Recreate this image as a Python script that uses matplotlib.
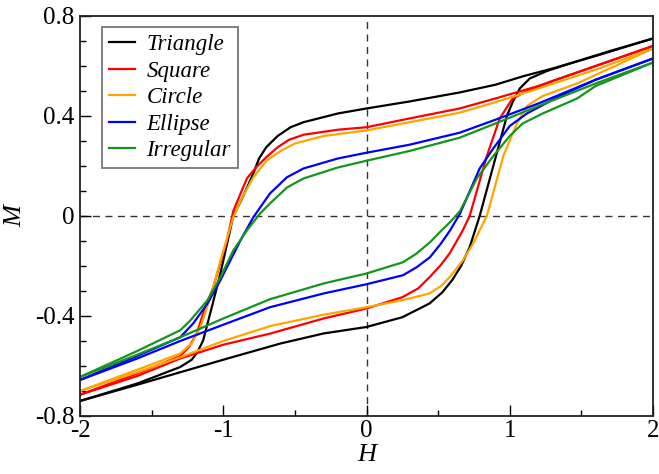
import glob
import matplotlib.pyplot as plt
from matplotlib import font_manager as fm
from matplotlib.ticker import MultipleLocator

# descending (upper) branch, H from 2 to -2; ascending (lower) branch, H from -2 to 2
tri_up_h = [2.0, 1.6, 1.3, 1.1, 0.9, 0.65, 0.3, 0.0, -0.2, -0.44, -0.53, -0.62, -0.7, -0.75, -0.79, -0.86,
            -0.93, -1.02, -1.08, -1.14, -1.18, -1.22, -1.3, -1.6, -2.0]
tri_up_m = [0.71, 0.64, 0.59, 0.56, 0.525, 0.494, 0.458, 0.43, 0.41, 0.375, 0.355, 0.32, 0.275, 0.23, 0.17, 0.08,
            0.0, -0.23, -0.365, -0.497, -0.545, -0.575, -0.604, -0.67, -0.74]
tri_dn_h = [-2.0, -1.6, -1.3, -1.0, -0.6, -0.3, 0.0, 0.25, 0.44, 0.53, 0.6, 0.66, 0.72, 0.79, 0.885, 0.98,
            1.02, 1.07, 1.14, 1.26, 1.42, 1.7, 2.0]
tri_dn_m = [-0.74, -0.675, -0.625, -0.575, -0.51, -0.47, -0.444, -0.405, -0.35, -0.305, -0.255, -0.2, -0.125,
            0.0, 0.2, 0.4, 0.455, 0.51, 0.55, 0.58, 0.61, 0.66, 0.71]

sq_up_h = [2.0, 1.6, 1.2, 0.9, 0.65, 0.3, 0.0, -0.2, -0.44, -0.54, -0.62, -0.7, -0.77, -0.835, -0.93,
           -0.975, -1.07, -1.14, -1.185, -1.24, -1.3, -1.6, -2.0]
sq_up_m = [0.68, 0.6, 0.52, 0.47, 0.43, 0.39, 0.355, 0.345, 0.325, 0.305, 0.275, 0.235, 0.195, 0.15, 0.02,
           -0.1, -0.285, -0.39, -0.47, -0.525, -0.56, -0.63, -0.715]
sq_dn_h = [-2.0, -1.6, -1.3, -1.0, -0.67, -0.3, 0.0, 0.25, 0.36, 0.44, 0.52, 0.58, 0.67, 0.72, 0.84, 0.93,
           1.02, 1.12, 1.3, 1.6, 2.0]
sq_dn_m = [-0.715, -0.64, -0.57, -0.515, -0.47, -0.41, -0.37, -0.325, -0.29, -0.245, -0.195, -0.15, -0.06, 0.0,
           0.24, 0.39, 0.47, 0.5, 0.54, 0.6, 0.68]

ci_up_h = [2.0, 1.6, 1.2, 0.9, 0.65, 0.3, 0.0, -0.3, -0.5, -0.6, -0.7, -0.79, -0.88, -0.93, -1.02,
           -1.09, -1.16, -1.22, -1.3, -1.6, -2.0]
ci_up_m = [0.67, 0.585, 0.51, 0.455, 0.413, 0.375, 0.342, 0.32, 0.29, 0.26, 0.22, 0.155, 0.06, -0.005, -0.18,
           -0.325, -0.445, -0.51, -0.55, -0.615, -0.7]
ci_dn_h = [-2.0, -1.6, -1.3, -1.0, -0.67, -0.3, 0.0, 0.25, 0.44, 0.52, 0.58, 0.67, 0.745, 0.84, 0.955,
           1.05, 1.12, 1.23, 1.47, 2.0]
ci_dn_m = [-0.7, -0.625, -0.565, -0.5, -0.44, -0.395, -0.365, -0.337, -0.31, -0.28, -0.245, -0.18, -0.11, 0.0,
           0.24, 0.37, 0.44, 0.48, 0.53, 0.67]

el_up_h = [2.0, 1.6, 1.2, 0.9, 0.65, 0.3, 0.0, -0.2, -0.44, -0.555, -0.674, -0.79, -0.88, -1.02,
           -1.11, -1.21, -1.3, -1.6, -2.0]
el_up_m = [0.63, 0.545, 0.45, 0.385, 0.333, 0.285, 0.253, 0.23, 0.19, 0.155, 0.09, -0.005, -0.098, -0.257,
           -0.35, -0.43, -0.485, -0.56, -0.656]
el_dn_h = [-2.0, -1.6, -1.3, -1.0, -0.674, -0.3, 0.0, 0.255, 0.35, 0.443, 0.52, 0.583, 0.653, 0.79, 0.885,
           1.0, 1.12, 1.35, 1.6, 2.0]
el_dn_m = [-0.656, -0.57, -0.5, -0.435, -0.365, -0.31, -0.273, -0.237, -0.205, -0.165, -0.11, -0.058, 0.01,
           0.19, 0.27, 0.36, 0.41, 0.48, 0.545, 0.63]

ir_up_h = [2.0, 1.6, 1.2, 0.9, 0.65, 0.3, 0.0, -0.2, -0.44, -0.555, -0.674, -0.743, -0.835, -0.93,
           -1.02, -1.11, -1.23, -1.3, -1.6, -2.0]
ir_up_m = [0.614, 0.53, 0.44, 0.37, 0.313, 0.26, 0.221, 0.194, 0.15, 0.114, 0.05, 0.01, -0.058, -0.138,
           -0.245, -0.337, -0.418, -0.457, -0.54, -0.644]
ir_dn_h = [-2.0, -1.6, -1.3, -1.0, -0.674, -0.3, 0.0, 0.255, 0.35, 0.443, 0.52, 0.583, 0.653, 0.77, 0.885,
           1.0, 1.09, 1.23, 1.47, 1.6, 2.0]
ir_dn_m = [-0.644, -0.555, -0.485, -0.41, -0.333, -0.27, -0.23, -0.185, -0.15, -0.105, -0.06, -0.025, 0.02,
           0.15, 0.24, 0.32, 0.37, 0.41, 0.47, 0.52, 0.614]

names = ["Triangle", "Square", "Circle", "Ellipse", "Irregular"]
colors = ["black", "#ff0000", "#ffa500", "#0000ff", "#13961a"]
loops = [
    (tri_up_h, tri_up_m, tri_dn_h, tri_dn_m),
    (sq_up_h, sq_up_m, sq_dn_h, sq_dn_m),
    (ci_up_h, ci_up_m, ci_dn_h, ci_dn_m),
    (el_up_h, el_up_m, el_dn_h, el_dn_m),
    (ir_up_h, ir_up_m, ir_dn_h, ir_dn_m),
]
x_ticks = [-2, -1, 0, 1, 2]
y_ticks = [-0.8, -0.4, 0, 0.4, 0.8]

# try to pick up a Times-like serif if one is lying around
for path in glob.glob('/usr/share/fonts/**/*.ttf', recursive=True):
    low = path.lower()
    if 'liberationserif' in low or 'nimbusroman' in low or 'times' in low:
        try:
            fm.fontManager.addfont(path)
        except Exception:
            pass

plt.rcParams['font.family'] = ['Liberation Serif', 'Nimbus Roman', 'DejaVu Serif']

fig = plt.figure(figsize=(6.59, 4.74), dpi=100)
ax = fig.add_axes([0.1214, 0.1224, 0.8695, 0.8439])

ax.axhline(0, color='#333333', lw=1.0, ls=(0, (5, 4)), zorder=1)
ax.axvline(0, color='#333333', lw=1.0, ls=(0, (5, 4)), zorder=1)

for name, col, (uh, um, dh, dm) in zip(names, colors, loops):
    ax.plot(uh, um, color=col, lw=1.6, label=name, zorder=2)
    ax.plot(dh, dm, color=col, lw=1.6, zorder=2)

ax.set_xlim(-2, 2)
ax.set_ylim(-0.8, 0.8)
ax.set_xticks(x_ticks)
ax.set_xticklabels([f"{v:g}" for v in x_ticks])
ax.set_yticks(y_ticks)
ax.set_yticklabels([f"{v:g}" for v in y_ticks])
ax.xaxis.set_minor_locator(MultipleLocator(0.5))
ax.yaxis.set_minor_locator(MultipleLocator(0.1))
ax.tick_params(which='major', direction='in', length=8, width=1.0, labelsize=18, pad=4)
ax.tick_params(which='minor', direction='in', length=4, width=1.0)
ax.tick_params(axis='x', which='major', pad=3)
for s in ax.spines.values():
    s.set_linewidth(1.3)
    s.set_color('#222222')

ax.set_xlabel('H', fontsize=19, style='italic', labelpad=1)
ax.set_ylabel('M', fontsize=19, style='italic', labelpad=6)

leg = ax.legend(loc='upper left', bbox_to_anchor=(0.038, 0.972),
                prop={'style': 'italic', 'size': 16.5}, frameon=True, fancybox=False,
                edgecolor='#555555', handlelength=1.15, handletextpad=0.5,
                labelspacing=0.24, borderpad=0.3, borderaxespad=0)
leg.get_frame().set_linewidth(1.3)

fig.savefig('out.png', dpi=100)
